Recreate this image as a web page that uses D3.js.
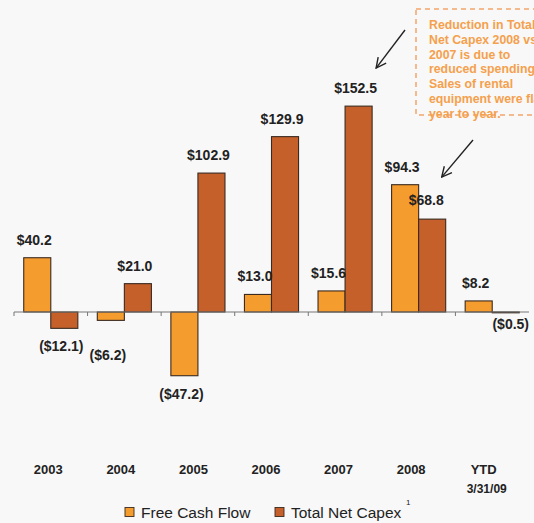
<!DOCTYPE html>
<html>
<head>
<meta charset="utf-8">
<script src="https://cdn.jsdelivr.net/npm/d3@7"></script>
<style>
  body{margin:0;background:#f8f8f8;}
  svg{display:block;font-family:"Liberation Sans",Arial,sans-serif;}
</style>
</head>
<body>
<svg width="534" height="523"></svg>
<script>
// data ($ millions)
const years = ['2003','2004','2005','2006','2007','2008','YTD'];
const yearSub = ['','','','','','','3/31/09'];
const series = ['Free Cash Flow','Total Net Capex'];
const freeCashFlow = [40.2,-6.2,-47.2,13.0,15.6,94.3,8.2];
const netCapex = [-12.1,21.0,102.9,129.9,152.5,68.8,-0.5];
const noteLines = ['Reduction in Total','Net Capex 2008 vs','2007 is due to','reduced spending.',
                   'Sales of rental','equipment were flat','year to year.'];

const svg = d3.select('svg');
const width = +svg.attr('width');
const height = +svg.attr('height');
const colors = d3.scaleOrdinal().domain(series).range(['#f59c2e','#c6602b']);

const x0 = d3.scaleBand().domain(years).range([14,529]);
const x1 = d3.scaleBand().domain(series).range([0,x0.bandwidth()]).paddingOuter(0.36);
const y = d3.scaleLinear().domain([-60,170]).range([393,82.5]);
const xLab = d3.scaleBand().domain(years).range([12,520]);

const rows = years.map((yr,i)=>({year:yr, values:[
  {key:series[0], v:freeCashFlow[i]},
  {key:series[1], v:netCapex[i]}]}));

// small nudges so labels sit like the original
const nudge = {'2004|Free Cash Flow':[0,17],'2008|Total Net Capex':[-3,-1],'YTD|Total Net Capex':[8,-7]};

const fmt = v => v<0 ? '($'+d3.format('.1f')(-v)+')' : '$'+d3.format('.1f')(v);

const g = svg.append('g');
const grp = g.selectAll('.grp').data(rows).enter().append('g')
  .attr('transform',d=>`translate(${x0(d.year)},0)`);

grp.selectAll('rect').data(d=>d.values.map(o=>({...o,year:d.year}))).enter().append('rect')
  .attr('x',d=>x1(d.key))
  .attr('width',x1.bandwidth())
  .attr('y',d=>y(Math.max(0,d.v)))
  .attr('height',d=>Math.max(0.8,Math.abs(y(d.v)-y(0))))
  .attr('fill',d=>colors(d.key))
  .attr('stroke','#3a2a20')
  .attr('stroke-width',1.1);

// axis line with ticks between categories
g.append('line').attr('x1',x0.range()[0]).attr('x2',x0.range()[1])
  .attr('y1',y(0)).attr('y2',y(0)).attr('stroke','#777').attr('stroke-width',1.2);
g.selectAll('.tk').data(years).enter().append('line')
  .attr('x1',d=>x0(d)).attr('x2',d=>x0(d))
  .attr('y1',y(0)).attr('y2',y(0)+4).attr('stroke','#777');

// value labels
grp.selectAll('text.val').data(d=>d.values.map(o=>({...o,year:d.year}))).enter().append('text')
  .attr('class','val')
  .each(function(d){
    const n = nudge[d.year+'|'+d.key] || [0,0];
    d3.select(this)
      .attr('x',x1(d.key)+x1.bandwidth()/2-3+n[0])
      .attr('y',(d.v>=0 ? y(d.v)-13 : y(d.v)+23)+n[1]);
  })
  .attr('text-anchor','middle')
  .attr('font-size',14).attr('font-weight','bold').attr('fill','#222')
  .text(d=>fmt(d.v));

// category labels
svg.selectAll('.cat').data(years).enter().append('text')
  .attr('x',d=>xLab(d)+xLab.bandwidth()/2).attr('y',474)
  .attr('text-anchor','middle').attr('font-size',13).attr('font-weight','bold').attr('fill','#222')
  .text(d=>d);
svg.selectAll('.sub').data(years.filter((d,i)=>yearSub[i])).enter().append('text')
  .attr('x',d=>xLab(d)+xLab.bandwidth()/2+3).attr('y',493)
  .attr('text-anchor','middle').attr('font-size',12).attr('font-weight','bold').attr('fill','#222')
  .text(d=>yearSub[years.indexOf(d)]);

// legend
const leg = svg.append('g');
const legX = [125,275];
series.forEach((s,i)=>{
  leg.append('rect').attr('x',legX[i]).attr('y',507.5).attr('width',9).attr('height',9)
    .attr('fill',colors(s)).attr('stroke','#3a2a20').attr('stroke-width',0.9);
  leg.append('text').attr('x',legX[i]+16).attr('y',517.5)
    .attr('font-size',15.5).attr('fill','#222').text(s);
});
leg.append('text').attr('x',406).attr('y',505).attr('font-size',8).attr('fill','#222').text('1');

// annotation box
const note = svg.append('g');
note.append('rect').attr('x',416).attr('y',9).attr('width',140).attr('height',106)
  .attr('fill','none').attr('stroke','#f2a46a').attr('stroke-width',1.5).attr('stroke-dasharray','5,4');
note.selectAll('text').data(noteLines).enter().append('text')
  .attr('x',429).attr('y',(d,i)=>29+i*14.8)
  .attr('font-size',12.3).attr('font-weight','bold').attr('fill','#f5a04c')
  .text(d=>d);

// arrows
svg.append('defs').append('marker').attr('id','ah')
  .attr('viewBox','0 0 12 12').attr('refX',11).attr('refY',6)
  .attr('markerWidth',12).attr('markerHeight',12).attr('markerUnits','userSpaceOnUse')
  .attr('orient','auto')
  .append('path').attr('d','M1,1 L11,6 L1,11').attr('fill','none').attr('stroke','#222').attr('stroke-width',1.4);

const right = (yr,s)=>x0(yr)+x1(s)+x1.bandwidth();
const arrows = [
  {x1:405,y1:30,x2:right('2007',series[1])+4,y2:y(152.5)-38},
  {x1:473,y1:140,x2:right('2008',series[1])-4,y2:y(68.8)-42}
];
svg.selectAll('.arr').data(arrows).enter().append('line')
  .attr('x1',d=>d.x1).attr('y1',d=>d.y1).attr('x2',d=>d.x2).attr('y2',d=>d.y2)
  .attr('stroke','#222').attr('stroke-width',1.4).attr('marker-end','url(#ah)');
</script>
</body>
</html>
